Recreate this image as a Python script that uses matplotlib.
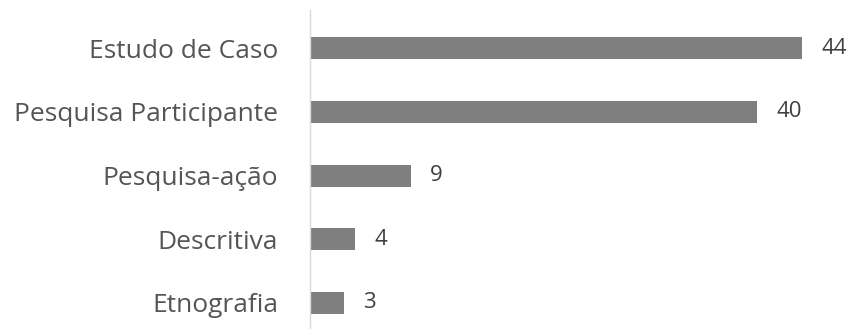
import matplotlib.pyplot as plt

categorias = ["Estudo de Caso", "Pesquisa Participante", "Pesquisa-ação", "Descritiva", "Etnografia"]
valores = [44, 40, 9, 4, 3]

plt.rcParams['font.family'] = ['Open Sans', 'DejaVu Sans']

fig = plt.figure(figsize=(8.55, 3.29), dpi=100)
ax = fig.add_axes([310 / 855, 0, 545 / 855, 319 / 329])

pos = list(range(len(categorias)))
ax.barh(pos, valores, height=0.345, color="#7f7f7f")
for p, v in zip(pos, valores):
    ax.text(v + 1.75, p, str(v), va="center", ha="left", fontsize=16, color="#404040")

ax.set_xlim(0, 44 * 545 / 492)
ax.set_ylim(4.41, -0.6)
ax.set_yticks(pos)
ax.set_yticklabels(categorias, fontsize=19, color="#555555")
ax.tick_params(axis="y", length=0, pad=23)
ax.set_xticks([])
for s in ["top", "right", "bottom"]:
    ax.spines[s].set_visible(False)
ax.spines["left"].set_color("#d9d9d9")
ax.spines["left"].set_linewidth(1)

fig.savefig("out.png", dpi=100)
